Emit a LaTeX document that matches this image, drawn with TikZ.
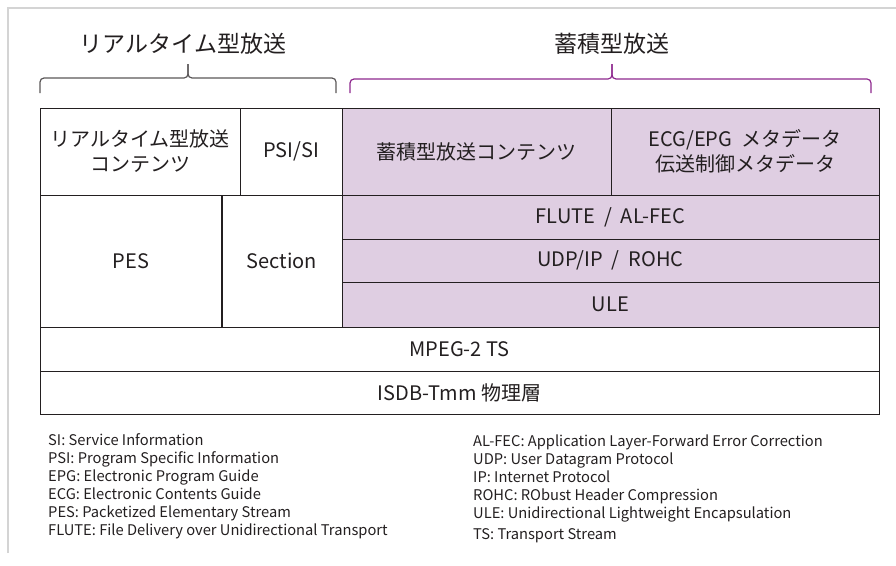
\documentclass[tikz,border=0pt]{standalone}
\usepackage{fontspec}
\setmainfont{Noto Sans CJK JP}
\usetikzlibrary{positioning}
\definecolor{Ink}{RGB}{35,31,32}
\definecolor{Lilac}{RGB}{223,206,226}
\definecolor{Plum}{RGB}{142,40,142}
\definecolor{Frame}{RGB}{212,212,212}
\tikzset{%
  cell/.style={%
    rectangle,%
    draw=Ink,%
    line width=0.8pt,%
    inner sep=0pt,%
    outer sep=0pt,%
    text=Ink,%
    align=center,%
    font={\fontsize{20}{25}\selectfont},%
  },
  stored/.style={%
    cell,%
    fill=Lilac,%
  },
  bracket/.style={%
    line width=1.2pt,%
    rounded corners=4pt,%
  },
  heading/.style={%
    text=Ink,%
    font={\fontsize{23}{26}\selectfont},%
  },
  legend/.style={%
    anchor=north west,%
    inner sep=0pt,%
    text=Ink,%
    align=left,%
    font={\fontsize{14.7}{18}\selectfont},%
  },
}

\begin{document}
\begin{tikzpicture}[x=1pt, y=-1pt]
    \useasboundingbox (0,0) rectangle (896,565);
    \draw [Frame, line width=1.5pt] (8,553) -- (8,8) -- (896,8);

    % upper row
    \node [cell, minimum width=200pt, minimum height=87pt, anchor=north west]
      (rt_content) at (40,108) {%
      リアルタイム型放送\\コンテンツ%
    };
    \node [cell, minimum width=102pt, minimum height=87pt,
      right=0pt of rt_content] (psi_si) {PSI/SI};
    \node [stored, minimum width=269pt, minimum height=87pt,
      right=0pt of psi_si] (st_content) {蓄積型放送コンテンツ};
    \node [stored, minimum width=268pt, minimum height=87pt,
      right=0pt of st_content] (metadata) {%
      ECG/EPG\ \ メタデータ\\伝送制御メタデータ%
    };

    % middle rows
    \node [cell, minimum width=182pt, minimum height=132pt,
      below right=0pt and 0pt of rt_content.south west] (pes) {PES};
    \node [cell, minimum width=120pt, minimum height=132pt,
      right=0pt of pes] (section) {Section};
    \draw [Ink, line width=1.5pt] (section.north west) -- (section.south west);
    \node [stored, minimum width=537pt, minimum height=44pt,
      below right=0pt and 0pt of st_content.south west] (flute) {%
      FLUTE\ \ /\ \ AL-FEC%
    };
    \node [stored, minimum width=537pt, minimum height=43pt,
      below=0pt of flute] (udp_ip) {UDP/IP\ \ /\ \ ROHC};
    \node [stored, minimum width=537pt, minimum height=45pt,
      below=0pt of udp_ip] (ule) {ULE};

    % lower rows
    \node [cell, minimum width=839pt, minimum height=44pt,
      below right=0pt and 0pt of pes.south west] (mpeg_ts) {MPEG-2 TS};
    \node [cell, minimum width=839pt, minimum height=43pt,
      below=0pt of mpeg_ts] (isdb) {ISDB-Tmm 物理層};

    % braces
    \draw [bracket, Ink!75] (40,93) -- (40,78) -- (188,78) -- (188,64);
    \draw [bracket, Ink!75] (336,93) -- (336,78) -- (188,78) -- (188,64);
    \node [heading] (rt_title) at (183,44) {リアルタイム型放送};
    \draw [bracket, Plum] (350,93) -- (350,79) -- (612,79) -- (612,64);
    \draw [bracket, Plum] (871,93) -- (871,79) -- (612,79) -- (612,64);
    \node [heading] (st_title) at (612,44) {蓄積型放送};

    % abbreviations
    \node [legend] (legend_left) at (48,433) {%
      SI: Service Information\\
      PSI: Program Specific Information\\
      EPG: Electronic Program Guide\\
      ECG: Electronic Contents Guide\\
      PES: Packetized Elementary Stream\\
      FLUTE: File Delivery over Unidirectional Transport%
    };
    \node [legend] (legend_right) at (473,435) {%
      AL-FEC: Application Layer-Forward Error Correction\\
      UDP: User Datagram Protocol\\
      IP: Internet Protocol\\
      ROHC: RObust Header Compression\\
      ULE: Unidirectional Lightweight Encapsulation\\[3pt]
      TS: Transport Stream%
    };
\end{tikzpicture}
\end{document}
